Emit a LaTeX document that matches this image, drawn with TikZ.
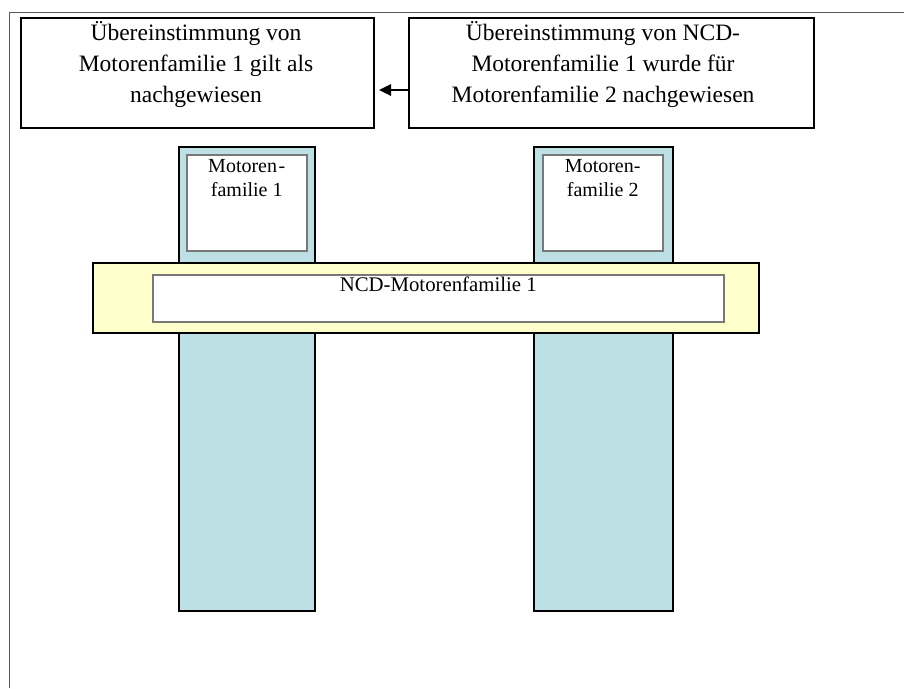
\documentclass[tikz,border=0pt]{standalone}
\usepackage{fontspec}
\setmainfont{Liberation Serif}
\usetikzlibrary{arrows.meta}
\definecolor{pillarblue}{RGB}{188,224,228}
\definecolor{bandyellow}{RGB}{255,255,204}
\definecolor{framegray}{RGB}{90,90,90}
\definecolor{innergray}{RGB}{120,120,120}
\tikzset{
  topbox/.style={draw=black, line width=2pt, fill=white, inner sep=0pt, anchor=north west},
  pillar/.style={draw=black, line width=2pt, fill=pillarblue, inner sep=0pt, anchor=north west},
  band/.style={draw=black, line width=2pt, fill=bandyellow, inner sep=0pt, anchor=north west},
  innerbox/.style={draw=innergray, line width=1.5pt, fill=white, inner sep=0pt, anchor=north west},
  bigtext/.style={inner sep=0pt, align=center, anchor=north, font=\fontsize{23.5pt}{31pt}\selectfont},
  smalltext/.style={inner sep=0pt, align=center, anchor=north, font=\fontsize{20pt}{24pt}\selectfont},
  bandtext/.style={inner sep=0pt, anchor=base, font=\fontsize{20.8pt}{24pt}\selectfont},
  conn/.style={line width=2.5pt, -{Triangle[length=12pt,width=11pt]}}
}
\begin{document}
\begin{tikzpicture}[x=1pt,y=-1pt]
\useasboundingbox (0,0) rectangle (904,688);
% outer frame
\coordinate (fbl) at (9,688);
\coordinate (ftl) at (9,12);
\coordinate (ftr) at (904,12);
\draw[framegray, line width=1pt] (fbl) -- (ftl) -- (ftr);
% top boxes
\node[topbox, minimum width=353pt, minimum height=110pt] (lb) at (20,17) {};
\node[topbox, minimum width=405pt, minimum height=110pt] (rb) at (408,17) {};
\node[bigtext] (lbt) at (196,18.5) {\strut Übereinstimmung von\\Motorenfamilie 1 gilt als\\nachgewiesen};
\node[bigtext] (rbt) at (603,18.5) {\strut Übereinstimmung von NCD-\\Motorenfamilie 1 wurde für\\Motorenfamilie 2 nachgewiesen};
\draw[conn] ([yshift=-17pt]rb.west) -- ([xshift=4pt,yshift=-17pt]lb.east);
% pillars
\node[pillar, minimum width=136pt, minimum height=464pt] (p1) at (178,146) {};
\node[pillar, minimum width=139pt, minimum height=464pt] (p2) at (533,146) {};
\node[innerbox, minimum width=120pt, minimum height=96pt] (p1in) at (186,154) {};
\node[innerbox, minimum width=120pt, minimum height=96pt] (p2in) at (542,154) {};
\node[smalltext] (p1t) at (p1in.north |- 0,155.5) {\strut Motoren\kern1.5pt-\\familie 1};
\node[smalltext] (p2t) at (p2in.north |- 0,155.5) {\strut Motoren-\\familie 2};
% band
\node[band, minimum width=666pt, minimum height=70pt] (bd) at (92,262) {};
\node[innerbox, minimum width=571pt, minimum height=47pt] (bdin) at (152,274) {};
\node[bandtext] (bdt) at (bdin.center |- 0,291) {NCD-Motorenfamilie 1};
\end{tikzpicture}
\end{document}
